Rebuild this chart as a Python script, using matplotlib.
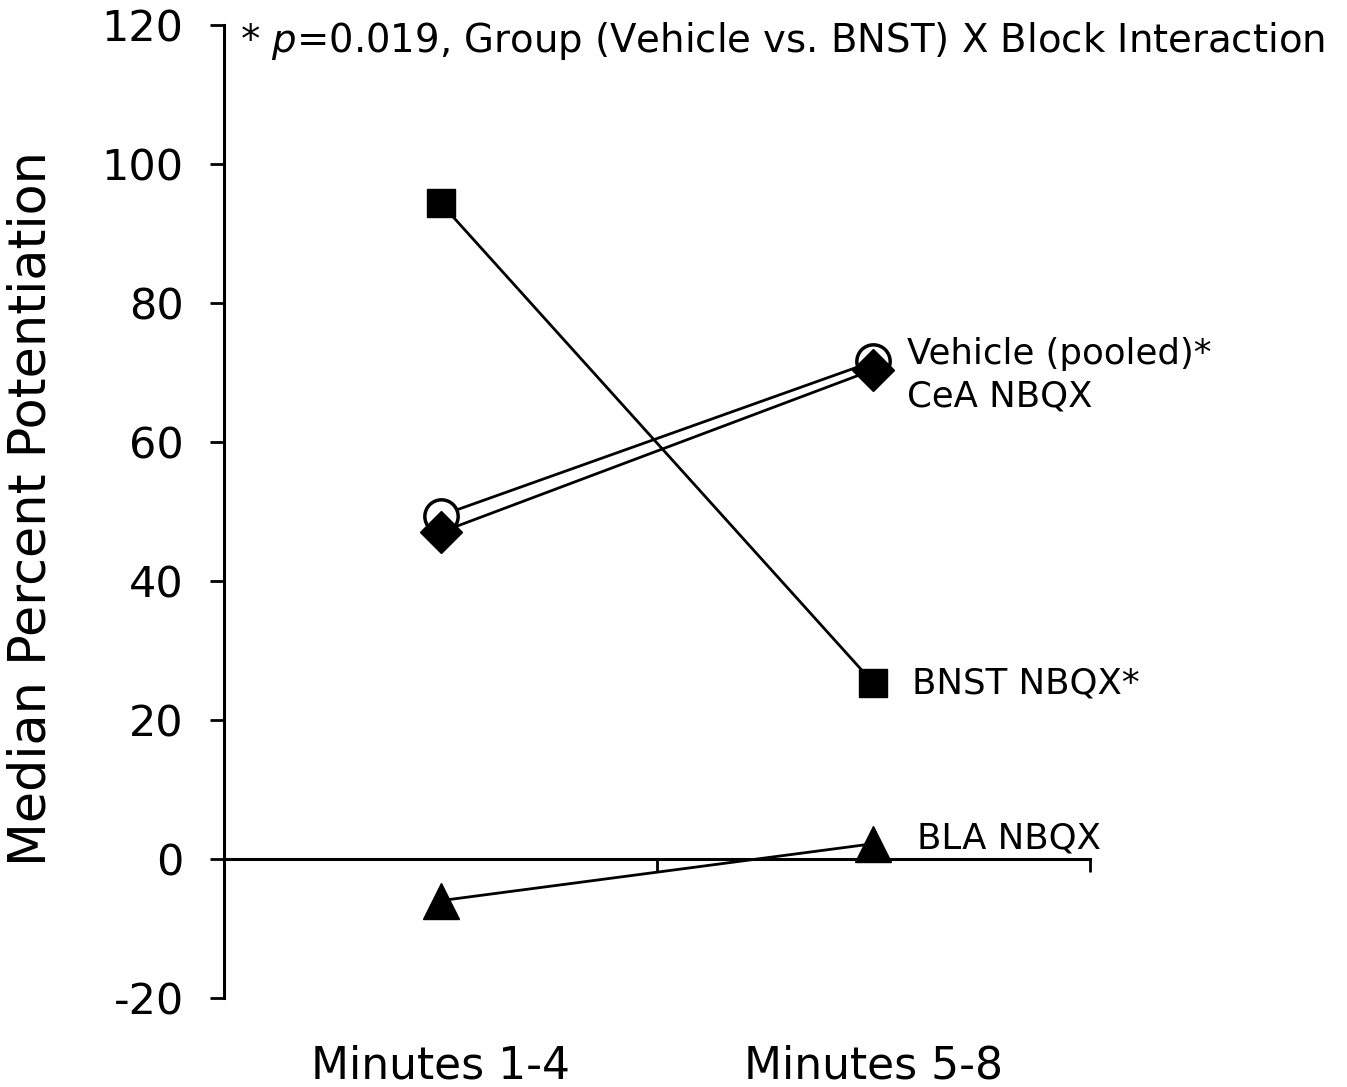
import matplotlib.pyplot as plt
from matplotlib.transforms import blended_transform_factory

plt.rcParams['font.family'] = ['DejaVu Sans']

BLOCKS = ['Minutes 1-4', 'Minutes 5-8']
BLOCK_X = [0.5, 1.5]

vehicle = [49.4, 71.6]
cea = [47.0, 70.4]
bnst = [94.4, 25.3]
bla = [-6.0, 2.2]

Y_TICKS = [-20, 0, 20, 40, 60, 80, 100, 120]

fig = plt.figure(figsize=(13.47, 10.87), dpi=100)
ax = fig.add_axes([0.1663, 0.0819, 0.8092 - 0.1663, 0.977 - 0.0819])

lw = 2.0
ax.plot(BLOCK_X, vehicle, color='black', lw=lw, marker='o', ms=24,
        mfc='white', mec='black', mew=2.5, clip_on=False, zorder=3)
ax.plot(BLOCK_X, cea, color='black', lw=lw, marker='D', ms=21,
        mfc='black', mec='black', clip_on=False, zorder=4)
ax.plot(BLOCK_X, bnst, color='black', lw=lw, marker='s', ms=20,
        mfc='black', mec='black', clip_on=False, zorder=3)
ax.plot(BLOCK_X, bla, color='black', lw=lw, marker='^', ms=26,
        mfc='black', mec='black', clip_on=False, zorder=3)

ax.set_xlim(0, 2)
ax.set_ylim(-20, 120)

for side in ('top', 'right'):
    ax.spines[side].set_visible(False)
ax.spines['bottom'].set_position(('data', 0))
ax.spines['left'].set_linewidth(2.2)
ax.spines['bottom'].set_linewidth(2.2)

ax.set_yticks(Y_TICKS)
ax.set_yticklabels([str(v) for v in Y_TICKS], fontsize=31)
ax.tick_params(axis='y', direction='out', length=10, width=2, pad=19)
ax.set_xticks([1, 2])
ax.set_xticklabels(['', ''])
ax.tick_params(axis='x', direction='out', length=9, width=2)

ax.set_ylabel('Median Percent Potentiation', fontsize=36.6, va='center')
ax.yaxis.set_label_coords(-0.222, 0.503)

trans = blended_transform_factory(ax.transData, ax.transAxes)
for x, name in zip(BLOCK_X, BLOCKS):
    ax.text(x, -0.07, name, transform=trans, ha='center', va='center',
            fontsize=31.7)

# labels next to the right-hand end points
ax.annotate('Vehicle (pooled)*', xy=(BLOCK_X[1], vehicle[1]), xytext=(24, 5),
            textcoords='offset points', ha='left', va='center', fontsize=25.6)
ax.annotate('CeA NBQX', xy=(BLOCK_X[1], cea[1]), xytext=(24, -19),
            textcoords='offset points', ha='left', va='center', fontsize=25.6)
ax.annotate('BNST NBQX*', xy=(BLOCK_X[1], bnst[1]), xytext=(28, 0),
            textcoords='offset points', ha='left', va='center', fontsize=25.6)
ax.annotate('BLA NBQX', xy=(BLOCK_X[1], bla[1]), xytext=(31, 4),
            textcoords='offset points', ha='left', va='center', fontsize=25.6)

ax.text(0.018, 0.984, '* $p$=0.019, Group (Vehicle vs. BNST) X Block Interaction',
        transform=ax.transAxes, ha='left', va='center', fontsize=27.8)

fig.savefig('out.png', dpi=100)
